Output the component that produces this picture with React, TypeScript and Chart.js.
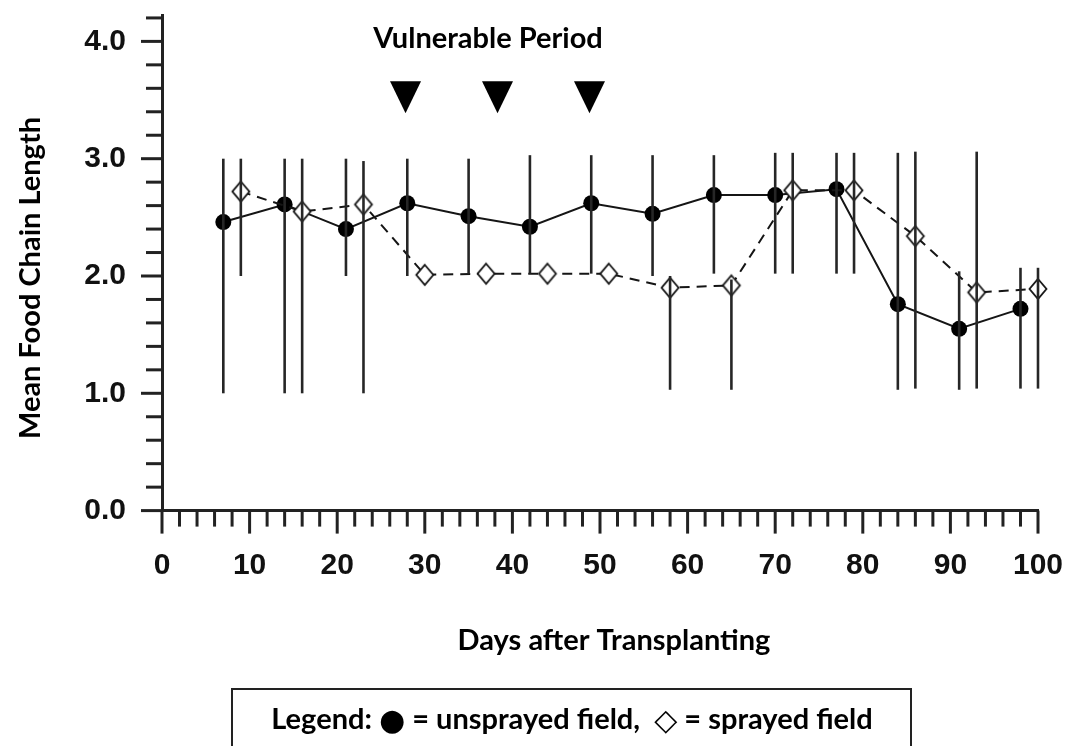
import React, { useEffect, useRef } from 'react';
import { Chart, registerables } from 'chart.js';

Chart.register(...registerables);

// ---- data ----
const unsprayedDays = [7, 14, 21, 28, 35, 42, 49, 56, 63, 70, 77, 84, 91, 98];
const unsprayedMeans = [2.46, 2.61, 2.4, 2.62, 2.51, 2.42, 2.62, 2.53, 2.69, 2.69, 2.74, 1.76, 1.55, 1.72];
const unsprayedUpper = [3.0, 3.0, 3.0, 3.0, 3.0, 3.03, 3.03, 3.03, 3.03, 3.05, 3.05, 3.05, 2.04, 2.07];
const unsprayedLower = [1.0, 1.0, 2.0, 2.0, 2.02, 2.02, 2.02, 2.0, 2.02, 2.02, 2.02, 1.03, 1.03, 1.04];

const sprayedDays = [9, 16, 23, 30, 37, 44, 51, 58, 65, 72, 79, 86, 93, 100];
const sprayedMeans = [2.72, 2.55, 2.61, 2.01, 2.02, 2.02, 2.02, 1.9, 1.92, 2.73, 2.73, 2.34, 1.86, 1.89];
const sprayedUpper = [3.0, 3.0, 2.98, null, null, null, null, 2.0, 1.97, 3.05, 3.05, 3.06, 3.06, 2.07];
const sprayedLower = [2.0, 1.0, 1.0, null, null, null, null, 1.03, 1.03, 2.02, 2.02, 1.04, 1.04, 1.04];

const vulnerableDays = [27.8, 38.3, 48.8];
const vulnerableMarkerTop = 3.66;

const xTickLabels = ['0', '10', '20', '30', '40', '50', '60', '70', '80', '90', '100'];
const yTickLabels = ['0.0', '1.0', '2.0', '3.0', '4.0'];

const periodTitle = 'Vulnerable Period';
const xTitle = 'Days after Transplanting';
const yTitle = 'Mean Food Chain Length';
// legend pieces: [text, isSymbol]
const legendParts: [string, boolean][] = [
  ['Legend: ', false],
  ['\u25CF', true],
  [' = unsprayed field,  ', false],
  ['\u25C7', true],
  [' = sprayed field', false],
];

const TICK_FONT = "'Liberation Sans', Arial, sans-serif";
const TITLE_FONT = "Lato, 'Open Sans', 'DejaVu Sans', sans-serif";
const SYMBOL_FONT = "'DejaVu Sans', sans-serif";
const INK = '#151515';

function makeDiamond(): HTMLCanvasElement {
  const c = document.createElement('canvas');
  c.width = 22;
  c.height = 26;
  const g = c.getContext('2d')!;
  g.beginPath();
  g.moveTo(11, 3);
  g.lineTo(19.5, 13);
  g.lineTo(11, 23);
  g.lineTo(2.5, 13);
  g.closePath();
  g.fillStyle = '#ffffff';
  g.fill();
  g.lineWidth = 1.8;
  g.strokeStyle = INK;
  g.stroke();
  return c;
}

const decorPlugin = {
  id: 'decor',
  beforeDatasetsDraw(chart: any) {
    const { ctx, scales } = chart;
    const xs = scales.x;
    const ys = scales.y;
    const axisY = ys.getPixelForValue(0);
    const axisX = xs.getPixelForValue(0);
    ctx.save();
    ctx.strokeStyle = '#222';
    ctx.lineWidth = 3;
    for (let v = 0; v <= 100; v += 2) {
      const px = xs.getPixelForValue(v);
      const len = v % 10 === 0 ? 23 : 16;
      ctx.beginPath();
      ctx.moveTo(px, axisY);
      ctx.lineTo(px, axisY + len);
      ctx.stroke();
    }
    for (let k = 0; k <= 21; k++) {
      const v = k * 0.2;
      const py = ys.getPixelForValue(v);
      const len = k % 5 === 0 ? 21 : 16;
      ctx.beginPath();
      ctx.moveTo(axisX - len, py);
      ctx.lineTo(axisX, py);
      ctx.stroke();
    }
    ctx.restore();
  },
  afterDatasetsDraw(chart: any) {
    const { ctx, scales } = chart;
    const xs = scales.x;
    const ys = scales.y;
    ctx.save();
    ctx.strokeStyle = '#262626';
    ctx.lineWidth = 2.6;
    const drawBars = (days: number[], up: (number | null)[], lo: (number | null)[]) => {
      days.forEach((d, i) => {
        const u = up[i];
        const l = lo[i];
        if (u == null || l == null) return;
        const px = xs.getPixelForValue(d);
        ctx.beginPath();
        ctx.moveTo(px, ys.getPixelForValue(u));
        ctx.lineTo(px, ys.getPixelForValue(l));
        ctx.stroke();
      });
    };
    drawBars(unsprayedDays, unsprayedUpper, unsprayedLower);
    drawBars(sprayedDays, sprayedUpper, sprayedLower);
    ctx.restore();
  },
  afterDraw(chart: any) {
    const { ctx, scales } = chart;
    const xs = scales.x;
    const ys = scales.y;
    ctx.save();
    // vulnerable period markers
    ctx.fillStyle = '#000';
    vulnerableDays.forEach((d) => {
      const cx = xs.getPixelForValue(d);
      const top = ys.getPixelForValue(vulnerableMarkerTop);
      ctx.beginPath();
      ctx.moveTo(cx - 15.5, top);
      ctx.lineTo(cx + 15.5, top);
      ctx.lineTo(cx, top + 32);
      ctx.closePath();
      ctx.fill();
    });
    ctx.fillStyle = '#000';
    ctx.textBaseline = 'alphabetic';
    ctx.textAlign = 'center';
    ctx.font = `bold 29px ${TITLE_FONT}`;
    ctx.fillText(periodTitle, 488, 48);
    ctx.fillText(xTitle, 614, 650);
    ctx.save();
    ctx.translate(40, 278);
    ctx.rotate(-Math.PI / 2);
    ctx.fillText(yTitle, 0, 0);
    ctx.restore();
    // legend box
    ctx.strokeStyle = '#222';
    ctx.lineWidth = 2;
    ctx.beginPath();
    ctx.moveTo(232, 760);
    ctx.lineTo(232, 689);
    ctx.lineTo(911, 689);
    ctx.lineTo(911, 760);
    ctx.stroke();
    // legend text, centred
    const textFont = `bold 29px ${TITLE_FONT}`;
    const symFont = `bold 30px ${SYMBOL_FONT}`;
    const widths = legendParts.map(([t, sym]) => {
      ctx.font = sym ? symFont : textFont;
      return ctx.measureText(t).width;
    });
    const total = widths.reduce((a, b) => a + b, 0);
    let x = 572 - total / 2;
    ctx.textAlign = 'left';
    legendParts.forEach(([t, sym], i) => {
      ctx.font = sym ? symFont : textFont;
      ctx.fillText(t, x, sym ? 730 : 729);
      x += widths[i];
    });
    ctx.restore();
  },
};

const zeroPadding = (s: any) => {
  s.paddingTop = 0;
  s.paddingBottom = 0;
  s.paddingLeft = 0;
  s.paddingRight = 0;
};

export default function App() {
  const ref = useRef<HTMLCanvasElement>(null);
  useEffect(() => {
    document.body.style.margin = '0';
    const canvas = ref.current!;
    const diamond = makeDiamond();
    const chart = new Chart(canvas, {
      type: 'scatter',
      data: {
        datasets: [
          {
            label: 'sprayed field',
            data: sprayedDays.map((d, i) => ({ x: d, y: sprayedMeans[i] })),
            showLine: true,
            borderColor: INK,
            borderWidth: 2,
            borderDash: [10, 7],
            pointStyle: diamond as any,
            pointRadius: 10,
            backgroundColor: '#fff',
            clip: false as any,
          },
          {
            label: 'unsprayed field',
            data: unsprayedDays.map((d, i) => ({ x: d, y: unsprayedMeans[i] })),
            showLine: true,
            borderColor: INK,
            borderWidth: 2,
            pointStyle: 'circle',
            pointRadius: 8,
            pointBackgroundColor: '#000',
            pointBorderColor: '#000',
            pointBorderWidth: 0,
            clip: false as any,
          },
        ],
      },
      options: {
        animation: false,
        responsive: false,
        devicePixelRatio: 1,
        layout: { autoPadding: false, padding: { top: 15, right: 32, left: 0, bottom: 0 } },
        plugins: { legend: { display: false }, tooltip: { enabled: false } },
        scales: {
          x: {
            type: 'linear',
            position: 'bottom',
            min: 0,
            max: 100,
            grid: { display: false, drawTicks: false },
            border: { display: true, color: '#222', width: 3 },
            ticks: {
              stepSize: 10,
              padding: 37,
              maxRotation: 0,
              includeBounds: false,
              color: '#111',
              font: { family: TICK_FONT, size: 30, weight: 'bold' },
              callback: (v: any) => xTickLabels[Math.round(Number(v) / 10)] ?? '',
            },
            afterFit: (s: any) => {
              s.height = 235.4;
              zeroPadding(s);
            },
          },
          y: {
            type: 'linear',
            min: 0,
            max: 4.225,
            grid: { display: false, drawTicks: false },
            border: { display: true, color: '#222', width: 3 },
            ticks: {
              stepSize: 1,
              padding: 36,
              includeBounds: false,
              color: '#111',
              font: { family: TICK_FONT, size: 30, weight: 'bold' },
              callback: (v: any) => yTickLabels[Math.round(Number(v))] ?? '',
            },
            afterFit: (s: any) => {
              s.width = 162;
              zeroPadding(s);
            },
          },
        },
      },
      plugins: [decorPlugin],
    } as any);
    return () => chart.destroy();
  }, []);
  return (
    <div style={{ width: 1070, height: 746, position: 'relative', background: '#fff' }}>
      <canvas ref={ref} width={1070} height={746} style={{ display: 'block' }} />
    </div>
  );
}
